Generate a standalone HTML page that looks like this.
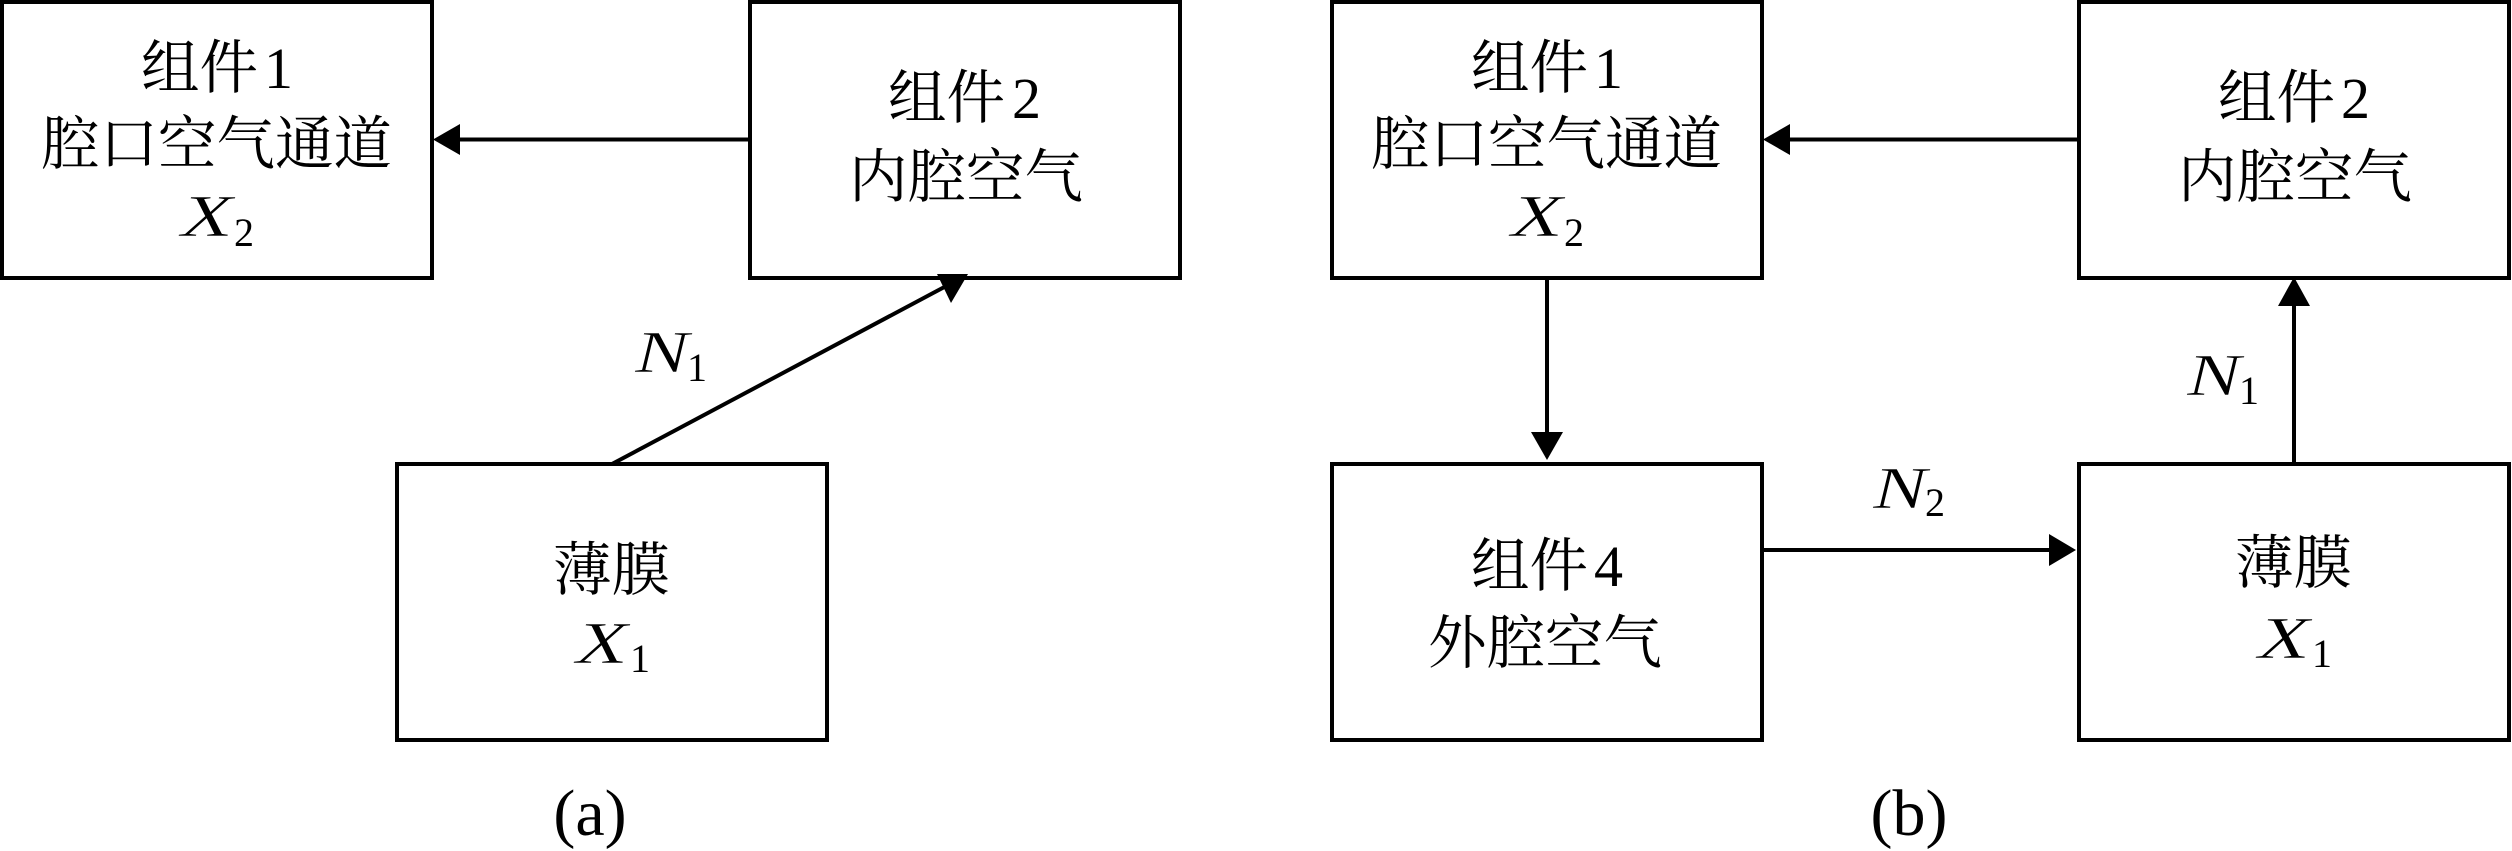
<!DOCTYPE html>
<html>
<head>
<meta charset="utf-8">
<style>
html,body{margin:0;padding:0;background:#fff;}
svg{display:block;}
.c{font-family:"Liberation Serif","Noto Serif CJK SC",serif;font-size:58.500px;fill:#000;}
.i{font-family:"Liberation Serif",serif;font-style:italic;font-size:59px;fill:#000;stroke:#fff;stroke-width:0.600px;}
.d{font-family:"Liberation Serif",serif;font-size:58px;fill:#000;}
.s{font-family:"Liberation Serif",serif;font-size:40px;fill:#000;}
.p{font-family:"Liberation Serif",serif;font-size:66px;fill:#000;text-anchor:middle;}
rect{fill:none;stroke:#000;stroke-width:4;}
line{stroke:#000;stroke-width:4;}
polygon{fill:#000;}
</style>
</head>
<body>
<svg width="2512" height="851" viewBox="0 0 2512 851" xmlns="http://www.w3.org/2000/svg">
<rect width="2512" height="851" style="fill:#fff;stroke:none"/>

<!-- (a) -->
<rect x="2" y="2" width="430" height="276"/>
<rect x="750" y="2" width="430" height="276"/>
<rect x="397" y="464" width="430" height="276"/>

<line x1="748" y1="139.500" x2="455" y2="139.500"/>
<polygon points="433,139.500 460,124 460,155"/>
<line x1="612" y1="464" x2="950" y2="284"/>
<polygon points="968,274 937,274 951,303"/>

<text class="c" x="141" y="88">组件</text><text class="d" x="264" y="88">1</text>
<text class="c" x="41" y="164">腔口空气通道</text>
<text class="i" x="181" y="236" textLength="52" lengthAdjust="spacingAndGlyphs">X</text><text class="s" x="234" y="246">2</text>

<text class="c" x="888" y="118">组件</text><text class="d" x="1012" y="118">2</text>
<text class="c" x="849" y="197">内腔空气</text>

<text class="c" x="553" y="590">薄膜</text>
<text class="i" x="576" y="663" textLength="52" lengthAdjust="spacingAndGlyphs">X</text><text class="s" x="630" y="672">1</text>

<text class="i" x="635" y="372" textLength="54" lengthAdjust="spacingAndGlyphs">N</text><text class="s" x="687" y="381">1</text>
<text class="p" x="590" y="835">(a)</text>

<!-- (b) -->
<rect x="1332" y="2" width="430" height="276"/>
<rect x="2079" y="2" width="430" height="276"/>
<rect x="1332" y="464" width="430" height="276"/>
<rect x="2079" y="464" width="430" height="276"/>

<line x1="2078" y1="139.500" x2="1785" y2="139.500"/>
<polygon points="1763,139.500 1790,124 1790,155"/>
<line x1="1547" y1="278" x2="1547" y2="435"/>
<polygon points="1547,460 1531,432 1563,432"/>
<line x1="1762" y1="550" x2="2055" y2="550"/>
<polygon points="2076,550 2049,534 2049,566"/>
<line x1="2294" y1="464" x2="2294" y2="305"/>
<polygon points="2294,277 2278,306 2310,306"/>

<text class="c" x="1471" y="88">组件</text><text class="d" x="1594" y="88">1</text>
<text class="c" x="1371" y="164">腔口空气通道</text>
<text class="i" x="1511" y="236" textLength="52" lengthAdjust="spacingAndGlyphs">X</text><text class="s" x="1564" y="246">2</text>

<text class="c" x="2218" y="118">组件</text><text class="d" x="2341" y="118">2</text>
<text class="c" x="2178" y="197">内腔空气</text>

<text class="c" x="1471" y="586">组件</text><text class="d" x="1594" y="586">4</text>
<text class="c" x="1428" y="663">外腔空气</text>

<text class="c" x="2235" y="583">薄膜</text>
<text class="i" x="2258" y="658" textLength="52" lengthAdjust="spacingAndGlyphs">X</text><text class="s" x="2312" y="667">1</text>

<text class="i" x="2187" y="395" textLength="54" lengthAdjust="spacingAndGlyphs">N</text><text class="s" x="2239" y="404">1</text>
<text class="i" x="1873" y="508" textLength="54" lengthAdjust="spacingAndGlyphs">N</text><text class="s" x="1925" y="516">2</text>
<text class="p" x="1909" y="835">(b)</text>
</svg>
</body>
</html>
